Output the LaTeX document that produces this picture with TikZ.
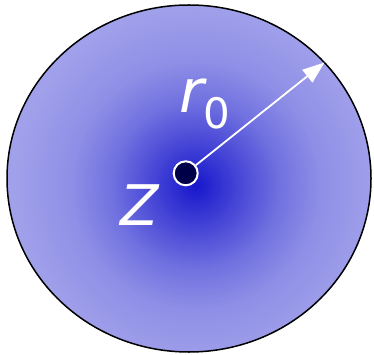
\documentclass[tikz,border=0pt]{standalone}
\usepackage{fontspec}
\setmainfont{DejaVu Sans}
\usetikzlibrary{shapes.geometric,arrows.meta}
\definecolor{glowin}{RGB}{22,22,204}
\definecolor{glowout}{RGB}{162,162,235}
\definecolor{dotfill}{RGB}{0,0,72}
\tikzset{
  ballstyle/.style={ellipse, draw=black, line width=1.5pt,
    minimum width=364pt, minimum height=347pt, inner sep=0pt},
  dotstyle/.style={circle, draw=white, line width=2pt, fill=dotfill,
    minimum size=24pt, inner sep=0pt},
  radius arrow/.style={draw=white, line width=1.8pt,
    -{Triangle[length=22pt,width=16pt,fill=white]}},
  lbl/.style={text=white, inner sep=0pt, anchor=base}
}
\begin{document}
\begin{tikzpicture}[x=1pt,y=-1pt]
\useasboundingbox (0,0) rectangle (374,355);
\coordinate (gc) at (196,186);
\begin{scope}
  \clip (189,178.5) ellipse [x radius=182pt, y radius=173.5pt];
  \foreach \d in {260,258,...,0} {
    \pgfmathsetmacro\tt{\d<45 ? 1-0.35*\d/45 : (\d<85 ? 0.65-0.30*(\d-45)/40 : (\d<125 ? 0.35-0.21*(\d-85)/40 : (\d<160 ? 0.14-0.08*(\d-125)/35 : max(0,0.06-0.06*(\d-160)/30))))}
    \pgfmathsetmacro\pp{100*\tt}
    \fill[glowin!\pp!glowout] (gc) circle [radius=\d pt];
  }
\end{scope}
\node[ballstyle] (ball) at (189,178.5) {};
\node[dotstyle] (dot) at (185.7,173.3) {};
\coordinate (tip) at (324.5,62.5);
\draw[radius arrow] (dot) -- (tip);
\node[lbl] (rlab) at (205,112.7) {\fontsize{60}{60}\selectfont\itshape r\raisebox{-16pt}{\fontsize{42}{42}\selectfont\upshape 0}};
\node[lbl] (zlab) at (140,225) {\fontsize{56}{56}\selectfont\itshape Z};
\end{tikzpicture}
\end{document}
